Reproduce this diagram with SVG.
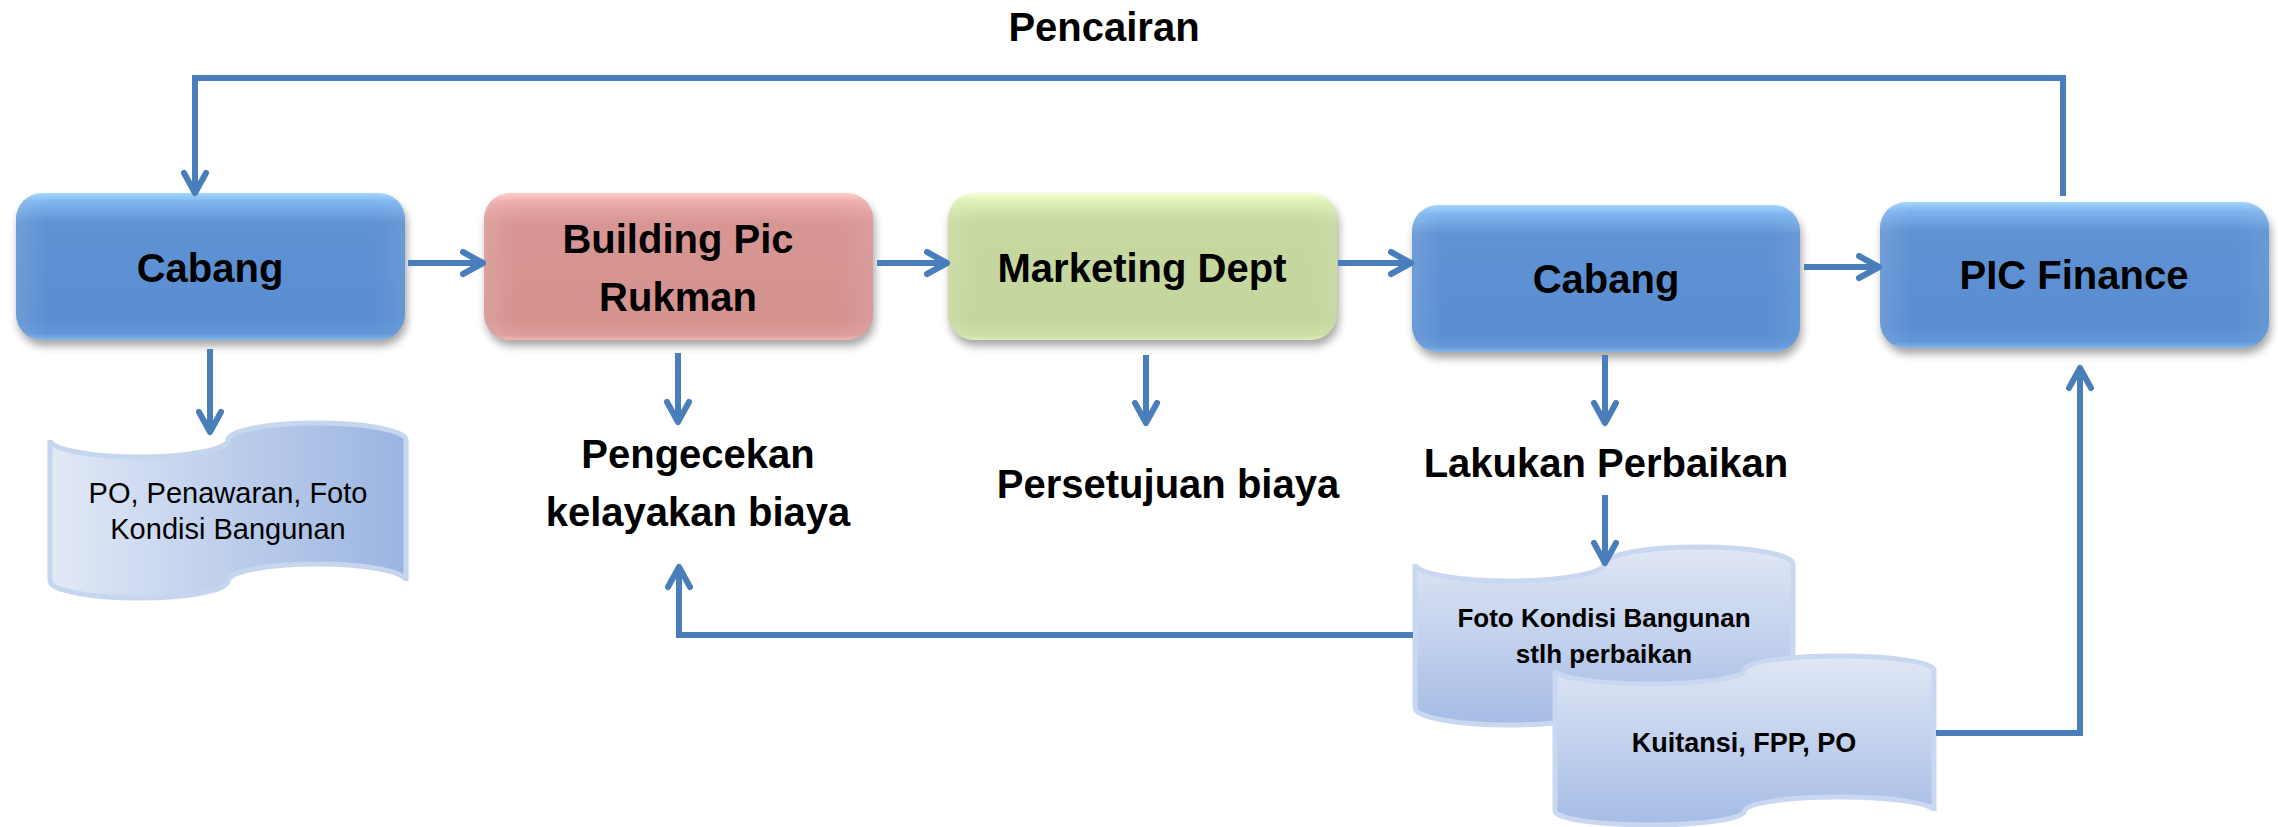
<svg xmlns="http://www.w3.org/2000/svg" width="2278" height="827" viewBox="0 0 2278 827">
  <style>
    .lbl { font-family: "Liberation Sans", Arial, sans-serif; font-weight: bold; font-size: 40px; fill: #000; text-anchor: middle; }
    .doc { font-family: "Liberation Sans", Arial, sans-serif; font-size: 26px; fill: #000; text-anchor: middle; }
    .docb { font-weight: bold; }
    .big { font-size: 29px; }
    .mid { font-size: 27px; }
    .conn { fill: none; stroke: #4a7ebb; stroke-width: 6; marker-end: url(#arr); }
    .shade { fill: url(#sideShade); }
    .shadow { fill: #000; opacity: 0.35; filter: url(#soft); }
    .tape { stroke-width: 5; }
  </style>
  <defs>
    <marker id="arr" markerUnits="userSpaceOnUse" orient="auto" markerWidth="40" markerHeight="40" viewBox="-30 -20 40 40" refX="0" refY="0" style="overflow:visible">
      <path d="M-20,-11 L0,0 L-20,11" fill="none" stroke="#4a7ebb" stroke-width="6" stroke-linecap="round" stroke-linejoin="round"/>
    </marker>
    <filter id="soft" x="-10%" y="-20%" width="120%" height="150%">
      <feGaussianBlur stdDeviation="4"/>
    </filter>
    <linearGradient id="gBlue" x1="0" y1="0" x2="0" y2="1">
      <stop offset="0" stop-color="#a2d6fd"/>
      <stop offset="0.06" stop-color="#7ab2ee"/>
      <stop offset="0.2" stop-color="#5a8fd2"/>
      <stop offset="0.86" stop-color="#558bd0"/>
      <stop offset="0.96" stop-color="#5d93d7"/>
      <stop offset="1" stop-color="#82b3ea"/>
    </linearGradient>
    <linearGradient id="gPink" x1="0" y1="0" x2="0" y2="1">
      <stop offset="0" stop-color="#ffcbc9"/>
      <stop offset="0.06" stop-color="#eba9a7"/>
      <stop offset="0.2" stop-color="#d69390"/>
      <stop offset="0.86" stop-color="#d4908d"/>
      <stop offset="0.96" stop-color="#da9895"/>
      <stop offset="1" stop-color="#efb2af"/>
    </linearGradient>
    <linearGradient id="gGreen" x1="0" y1="0" x2="0" y2="1">
      <stop offset="0" stop-color="#f3ffd2"/>
      <stop offset="0.06" stop-color="#dcefb3"/>
      <stop offset="0.2" stop-color="#c4d79d"/>
      <stop offset="0.86" stop-color="#c2d59a"/>
      <stop offset="0.96" stop-color="#c9dca1"/>
      <stop offset="1" stop-color="#ddecb7"/>
    </linearGradient>
    <linearGradient id="sideShade" x1="0" y1="0" x2="1" y2="0">
      <stop offset="0" stop-color="#fff" stop-opacity="0.14"/>
      <stop offset="0.08" stop-color="#fff" stop-opacity="0.03"/>
      <stop offset="0.92" stop-color="#fff" stop-opacity="0.03"/>
      <stop offset="1" stop-color="#fff" stop-opacity="0.1"/>
    </linearGradient>
    <linearGradient id="gTapeH" x1="0" y1="0" x2="1" y2="0">
      <stop offset="0" stop-color="#e2e9f6"/>
      <stop offset="1" stop-color="#9ab4e1"/>
    </linearGradient>
    <linearGradient id="gTapeV" x1="0" y1="0" x2="0" y2="1">
      <stop offset="0" stop-color="#e0e7f5"/>
      <stop offset="1" stop-color="#a6bce5"/>
    </linearGradient>
  </defs>

  <!-- process boxes -->
  <g id="cabang1">
    <rect class="shadow" x="18" y="199" width="389" height="147" rx="26"/>
    <rect x="16" y="193" width="389" height="147" rx="26" fill="url(#gBlue)"/>
    <rect class="shade" x="16" y="193" width="389" height="147" rx="26"/>
    <text class="lbl" x="210" y="282">Cabang</text>
  </g>
  <g id="building-pic">
    <rect class="shadow" x="486" y="199" width="389" height="147" rx="26"/>
    <rect x="484" y="193" width="389" height="147" rx="26" fill="url(#gPink)"/>
    <rect class="shade" x="484" y="193" width="389" height="147" rx="26"/>
    <text class="lbl" x="678" y="253">Building Pic</text>
    <text class="lbl" x="678" y="311">Rukman</text>
  </g>
  <g id="marketing">
    <rect class="shadow" x="950" y="199" width="389" height="147" rx="26"/>
    <rect x="948" y="193" width="389" height="147" rx="26" fill="url(#gGreen)"/>
    <rect class="shade" x="948" y="193" width="389" height="147" rx="26"/>
    <text class="lbl" x="1142" y="282">Marketing Dept</text>
  </g>
  <g id="cabang2">
    <rect class="shadow" x="1414" y="211" width="388" height="147" rx="26"/>
    <rect x="1412" y="205" width="388" height="147" rx="26" fill="url(#gBlue)"/>
    <rect class="shade" x="1412" y="205" width="388" height="147" rx="26"/>
    <text class="lbl" x="1606" y="293">Cabang</text>
  </g>
  <g id="pic-finance">
    <rect class="shadow" x="1882" y="208" width="389" height="146" rx="26"/>
    <rect x="1880" y="202" width="389" height="146" rx="26" fill="url(#gBlue)"/>
    <rect class="shade" x="1880" y="202" width="389" height="146" rx="26"/>
    <text class="lbl" x="2074" y="289">PIC Finance</text>
  </g>

  <!-- step labels -->
  <g id="pencairan">
    <text class="lbl" x="1104" y="41">Pencairan</text>
  </g>
  <g id="pengecekan">
    <text class="lbl" x="698" y="468">Pengecekan</text>
    <text class="lbl" x="698" y="526">kelayakan biaya</text>
  </g>
  <g id="persetujuan">
    <text class="lbl" x="1168" y="498">Persetujuan biaya</text>
  </g>
  <g id="perbaikan">
    <text class="lbl" x="1606" y="477">Lakukan Perbaikan</text>
  </g>

  <!-- document (punched tape) shapes -->
  <g id="doc-po">
    <path class="tape" d="M50,440 A89,17 0 0 0 228,440 A89,17 0 0 1 406,440 L406,581 A89,17 0 0 0 228,581 A89,17 0 0 1 50,581 Z" fill="url(#gTapeH)" stroke="#c6d6ef"/>
    <text class="doc big" x="228" y="503">PO, Penawaran, Foto</text>
    <text class="doc big" x="228" y="539">Kondisi Bangunan</text>
  </g>
  <g id="doc-foto">
    <path class="tape" d="M1415,564 A94.5,17 0 0 0 1604,564 A94.5,17 0 0 1 1793,564 L1793,708 A94.5,17 0 0 0 1604,708 A94.5,17 0 0 1 1415,708 Z" fill="url(#gTapeV)" stroke="#c9d8f0"/>
    <text class="doc docb" x="1604" y="627">Foto Kondisi Bangunan</text>
    <text class="doc docb" x="1604" y="663">stlh perbaikan</text>
  </g>
  <g id="doc-kuitansi">
    <path class="tape" d="M1555,670 A94.75,14 0 0 0 1744.5,670 A94.75,14 0 0 1 1934,670 L1934,811 A94.75,14 0 0 0 1744.5,811 A94.75,14 0 0 1 1555,811 Z" fill="url(#gTapeV)" stroke="#c9d8f0"/>
    <text class="doc docb mid" x="1744" y="752">Kuitansi, FPP, PO</text>
  </g>

  <!-- connectors -->
  <g id="connectors">
    <path class="conn" d="M408,263 H483"/>
    <path class="conn" d="M877,263 H947"/>
    <path class="conn" d="M1338,263 H1411"/>
    <path class="conn" d="M1804,267 H1879"/>
    <path class="conn" d="M210,349 V432"/>
    <path class="conn" d="M678,353 V422"/>
    <path class="conn" d="M1146,355 V423"/>
    <path class="conn" d="M1605,355 V423"/>
    <path class="conn" d="M1605,495 V563"/>
    <path class="conn" d="M1413,635 H679 V567"/>
    <path class="conn" d="M1936,733 H2080 V368"/>
    <path class="conn" d="M2063,196 V78 H195 V193"/>
  </g>
</svg>
